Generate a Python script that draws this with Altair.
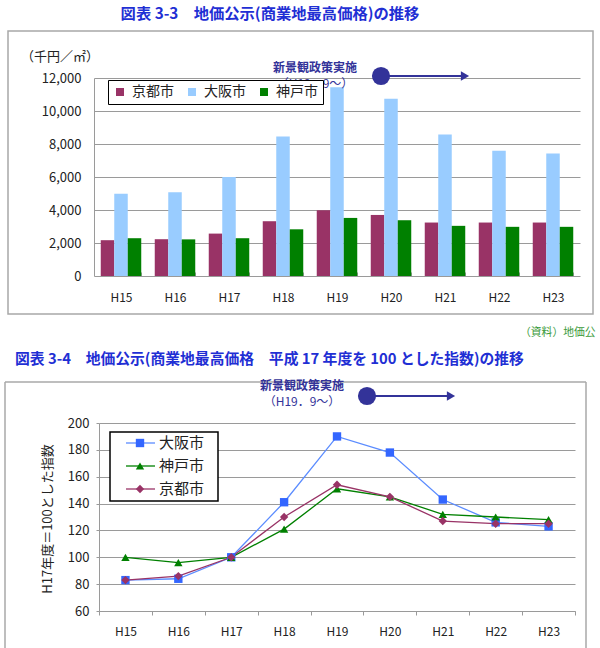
import altair as alt
import pandas as pd

FONT = "Noto Sans CJK JP"

years = ["H15", "H16", "H17", "H18", "H19", "H20", "H21", "H22", "H23"]

# 商業地最高価格（千円／㎡）
price_cities = ["京都市", "大阪市", "神戸市"]
price_kyoto = [2170, 2230, 2570, 3320, 3990, 3700, 3240, 3240, 3240]
price_osaka = [4980, 5080, 6000, 8460, 11440, 10750, 8580, 7590, 7430]
price_kobe = [2290, 2220, 2290, 2830, 3520, 3380, 3040, 2980, 2980]
price_colors = ["#993366", "#99ccff", "#008000"]
price_ticks = [0, 2000, 4000, 6000, 8000, 10000, 12000]

# 平成17年度を100とした指数
index_cities = ["大阪市", "神戸市", "京都市"]
index_osaka = [83, 84, 100, 141, 190, 178, 143, 126, 123]
index_kobe = [100, 96, 100, 121, 151, 145, 132, 130, 128]
index_kyoto = [83, 86, 100, 130, 154, 145, 127, 125, 125]
index_line_colors = ["#5b8cff", "#008000", "#993366"]
index_marker_colors = ["#3366ff", "#008000", "#993366"]
index_shapes = ["square", "triangle-up", "diamond"]
index_ticks = [60, 80, 100, 120, 140, 160, 180, 200]

price_df = pd.DataFrame({
    "year": years * 3,
    "city": [c for c in price_cities for _ in years],
    "price": price_kyoto + price_osaka + price_kobe,
})
index_df = pd.DataFrame({
    "year": years * 3,
    "city": [c for c in index_cities for _ in years],
    "index": index_osaka + index_kobe + index_kyoto,
})

TITLE_BLUE = "#1f2fd4"
NOTE_BLUE = "#333399"
FRAME = "#a8a8a8"
GRID = "#9a9a9a"


def one_row(**cols):
    return pd.DataFrame({k: [v] for k, v in cols.items()})


def note(text, x, y, **style):
    return alt.Chart(one_row(text=text)).mark_text(**style).encode(
        x=alt.value(x), y=alt.value(y), text="text:N"
    )


def box(x, x2, y, y2, stroke, width=1.5, fill="transparent"):
    return alt.Chart(one_row(k=0)).mark_rect(
        fill=fill, stroke=stroke, strokeWidth=width
    ).encode(x=alt.value(x), x2=alt.value(x2), y=alt.value(y), y2=alt.value(y2))


def hline(x, x2, y, color, width=2):
    return alt.Chart(one_row(k=0)).mark_rule(color=color, strokeWidth=width).encode(
        x=alt.value(x), x2=alt.value(x2), y=alt.value(y)
    )


def vline(x, y, y2, color, width=1.5):
    return alt.Chart(one_row(k=0)).mark_rule(color=color, strokeWidth=width).encode(
        x=alt.value(x), y=alt.value(y), y2=alt.value(y2)
    )


def dot(x, y, shape, size, color):
    return alt.Chart(one_row(k=0)).mark_point(
        shape=shape, filled=True, size=size, color=color, opacity=1
    ).encode(x=alt.value(x), y=alt.value(y))


def policy_marker(tx, ty, cx, cy, tip):
    """Two-line caption plus a dot with an arrow pointing right."""
    return [
        note("新景観政策実施", tx, ty - 1, fontSize=12, fontWeight="bold",
             color=NOTE_BLUE, align="center", baseline="middle"),
        note("（H19．9～）", tx, ty + 15, fontSize=12, color=NOTE_BLUE,
             align="center", baseline="middle"),
        hline(cx, tip - 4, cy, NOTE_BLUE, 2),
        dot(tip - 3, cy, "triangle-right", 90, NOTE_BLUE),
        dot(cx, cy, "circle", 330, NOTE_BLUE),
    ]


# ---------- 図表 3-3 : grouped bars ----------
TW, TH = 486, 198

bars = alt.Chart(price_df).mark_bar().encode(
    x=alt.X(
        "year:N", sort=years, title=None,
        scale=alt.Scale(paddingInner=0.25, paddingOuter=0.125),
        axis=alt.Axis(
            labelAngle=0, labelFontSize=12, labelColor="#222", labelPadding=16,
            domain=False, grid=False, ticks=True, tickBand="extent", tickSize=4,
            tickColor=GRID, offset=-4,
        ),
    ),
    xOffset=alt.XOffset("city:N", sort=price_cities,
                        scale=alt.Scale(paddingInner=0, paddingOuter=0)),
    y=alt.Y(
        "price:Q", title=None, scale=alt.Scale(domain=[0, 12000], nice=False),
        axis=alt.Axis(
            values=price_ticks, format=",d", labelFontSize=13, labelColor="#222",
            labelPadding=13, tickSize=0, ticks=False, grid=True, gridColor=GRID,
            domain=True, domainColor=GRID,
        ),
    ),
    color=alt.Color(
        "city:N", scale=alt.Scale(domain=price_cities, range=price_colors),
        legend=alt.Legend(
            orient="none", legendX=14, legendY=2, direction="horizontal", columns=3,
            title=None, strokeColor="black", fillColor="white", padding=5,
            symbolType="square", symbolSize=64, symbolStrokeWidth=0, symbolOpacity=1,
            labelFontSize=14, labelColor="#222", columnPadding=11, labelOffset=5,
        ),
    ),
)

top = alt.layer(
    # full page extent (keeps the canvas at 600 x 648)
    box(-94, 506, -78, 570, "transparent", 0),
    box(-86, 499, -47, 236, FRAME),
    note("図表 3-3　地価公示(商業地最高価格)の推移", 176, -64, fontSize=15.3,
         fontWeight="bold", color=TITLE_BLUE, align="center", baseline="middle"),
    note("（千円／㎡）", -73, -21, fontSize=13, color="#222", align="left",
         baseline="middle"),
    note("（資料）地価公示", 426, 255, fontSize=10.8, color="#3a9a3a", align="left",
         baseline="middle", limit=80, ellipsis=" "),
    bars,
    *policy_marker(221, -9, 287, -2, 374),
).properties(width=TW, height=TH)

# ---------- 図表 3-4 : index lines ----------
BW, BH = 476, 188

x_idx = alt.X(
    "year:N", sort=years, title=None, bandPosition=0.5,
    scale=alt.Scale(type="band", paddingInner=0, paddingOuter=0),
    axis=alt.Axis(
        labelAngle=0, labelFontSize=12, labelColor="#222", labelPadding=11,
        domain=True, domainColor=GRID, grid=False, ticks=True, tickBand="extent",
        tickSize=4, tickColor=GRID,
    ),
)
y_idx = alt.Y(
    "index:Q", title=None, scale=alt.Scale(domain=[60, 200], nice=False),
    axis=alt.Axis(
        values=index_ticks, labelFontSize=13, labelColor="#222", labelPadding=7,
        tickSize=3, tickColor=GRID, grid=True, gridColor=GRID, domain=True,
        domainColor=GRID,
    ),
)

lines = alt.Chart(index_df).mark_line(strokeWidth=1.3).encode(
    x=x_idx, y=y_idx,
    stroke=alt.Stroke("city:N", sort=index_cities,
                      scale=alt.Scale(domain=index_cities, range=index_line_colors),
                      legend=None),
)
points = alt.Chart(index_df).mark_point(filled=True, size=70, opacity=1).encode(
    x=x_idx, y=y_idx,
    fill=alt.Fill("city:N", scale=alt.Scale(domain=index_cities, range=index_marker_colors),
                  legend=None),
    shape=alt.Shape("city:N", scale=alt.Scale(domain=index_cities, range=index_shapes),
                    legend=None),
)

legend_rows = [20, 43, 66]
legend_layers = [box(11, 119, 9, 78, "black", 1.5, fill="white")]
for city, lc, mc, shp, ry in zip(index_cities, index_line_colors, index_marker_colors,
                                 index_shapes, legend_rows):
    legend_layers += [
        hline(27, 56, ry, lc, 1.3),
        dot(41, ry, shp, 70, mc),
        note(city, 60, ry, fontSize=15, color="#222", align="left", baseline="middle"),
    ]

bottom = alt.layer(
    vline(-94, -41, 225, FRAME),
    vline(487, -41, 225, FRAME),
    hline(-94, 487, -41, FRAME, 1.5),
    note("図表 3-4　地価公示(商業地最高価格　平成 17 年度を 100 とした指数)の推移",
         -84, -63, fontSize=14.8, fontWeight="bold", color=TITLE_BLUE, align="left",
         baseline="middle"),
    note("H17年度＝100とした指数", -51, 96, fontSize=13, color="#222", angle=270,
         align="center", baseline="middle"),
    lines,
    points,
    *legend_layers,
    *policy_marker(203, -36, 268, -27, 355),
).properties(width=BW, height=BH)

chart = alt.vconcat(
    top, bottom, spacing=147, bounds="flush", center=True
).properties(padding=0).configure(
    font=FONT, background="white"
).configure_view(strokeWidth=0)

chart.save("out.html", embed_options={"renderer": "svg", "actions": False})
